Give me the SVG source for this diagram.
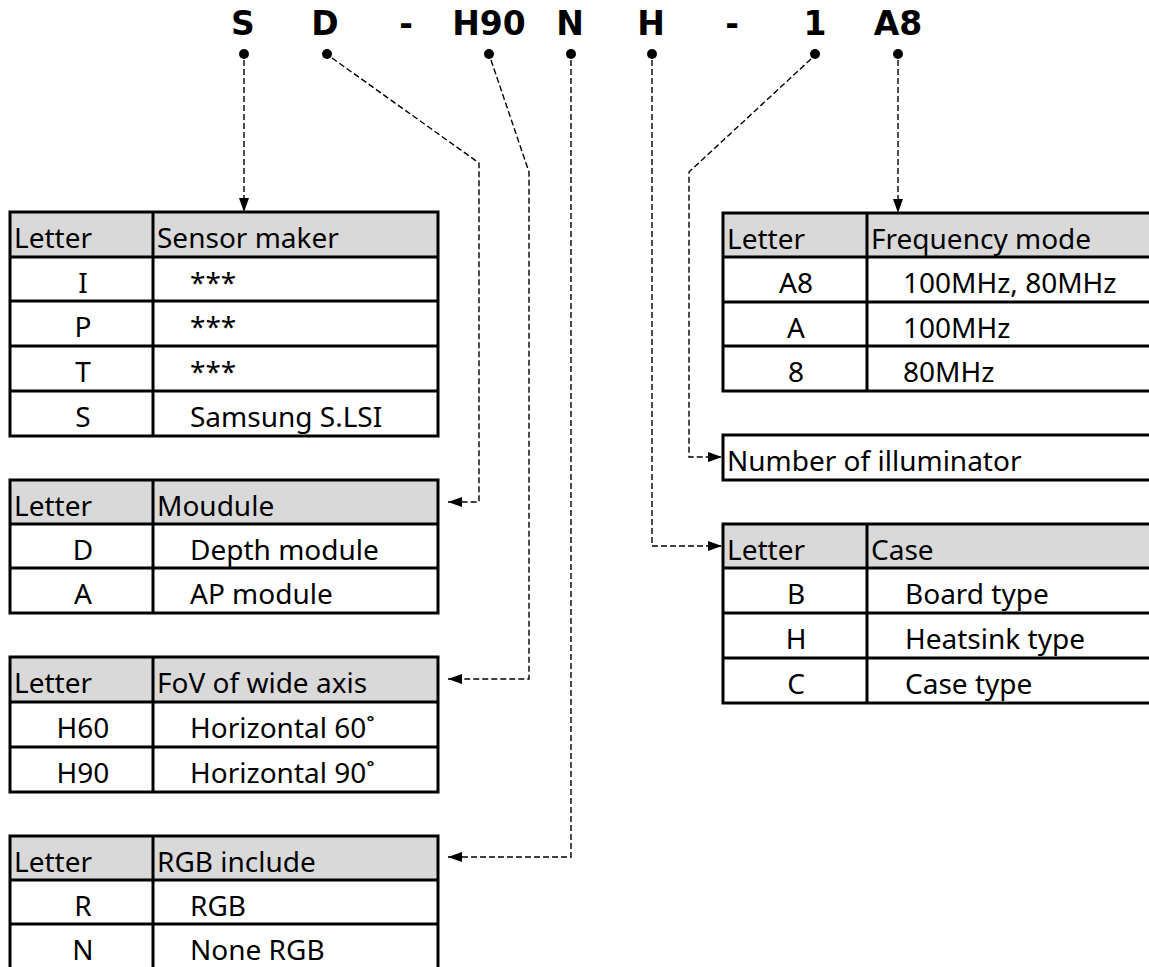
<svg xmlns="http://www.w3.org/2000/svg" width="1149" height="967" viewBox="0 0 1149 967">
  <style>
    .bg { fill: #ffffff; }
    .hdr { fill: #d9d9d9; stroke: none; }
    .frame { fill: none; stroke: #000; stroke-width: 3; }
    .rule { stroke: #000; stroke-width: 3; }
    .t { font-family: "Noto Sans", "Open Sans", sans-serif; font-size: 28px; fill: #000; }
    .c { text-anchor: middle; }
    .code { font-family: "DejaVu Sans", "Noto Sans", sans-serif; font-size: 33px; font-weight: bold; fill: #000; text-anchor: middle; }
    .dot { fill: #000; }
    .lead { fill: none; stroke: #000; stroke-width: 1.4; stroke-dasharray: 6 3; }
  </style>
  <defs>
    <marker id="arrow" viewBox="0 0 14 10" refX="14" refY="5" markerWidth="14" markerHeight="10" markerUnits="userSpaceOnUse" orient="auto">
      <path d="M0,0 L14,5 L0,10 Z" fill="#000"/>
    </marker>
  </defs>

  <rect class="bg" x="0" y="0" width="1149" height="967"/>

  <!-- part number, one field per group -->
  <g id="code">
    <text class="code" x="243" y="35">S</text>
    <text class="code" x="325" y="35">D</text>
    <text class="code" x="406" y="35">-</text>
    <text class="code" x="489" y="35">H90</text>
    <text class="code" x="570" y="35">N</text>
    <text class="code" x="651" y="35">H</text>
    <text class="code" x="732" y="35">-</text>
    <text class="code" x="815" y="35">1</text>
    <text class="code" x="898" y="35">A8</text>
    <circle class="dot" cx="244" cy="54" r="5"/>
    <circle class="dot" cx="327" cy="54" r="5"/>
    <circle class="dot" cx="489" cy="54" r="5"/>
    <circle class="dot" cx="571" cy="54" r="5"/>
    <circle class="dot" cx="652" cy="54" r="5"/>
    <circle class="dot" cx="815" cy="54" r="5"/>
    <circle class="dot" cx="898" cy="54" r="5"/>
  </g>

  <!-- leader lines from each field to its legend -->
  <g id="connectors">
    <path class="lead" d="M244,60 L244,212" marker-end="url(#arrow)"/>
    <path class="lead" d="M332,58 L479,163 L479,502 L448,502" marker-end="url(#arrow)"/>
    <path class="lead" d="M491,60 L529,172 L529,679 L448,679" marker-end="url(#arrow)"/>
    <path class="lead" d="M571,60 L571,857 L448,857" marker-end="url(#arrow)"/>
    <path class="lead" d="M652,60 L652,546 L722,546" marker-end="url(#arrow)"/>
    <path class="lead" d="M811,59 L689,172 L689,457 L722,457" marker-end="url(#arrow)"/>
    <path class="lead" d="M898,60 L898,213" marker-end="url(#arrow)"/>
  </g>

  <!-- sensor maker -->
  <g id="maker-table">
    <rect class="hdr" x="10" y="212" width="428" height="45"/>
    <rect class="frame" x="10" y="212" width="428" height="224"/>
    <line class="rule" x1="10" y1="257" x2="438" y2="257"/>
    <line class="rule" x1="10" y1="301" x2="438" y2="301"/>
    <line class="rule" x1="10" y1="346" x2="438" y2="346"/>
    <line class="rule" x1="10" y1="391" x2="438" y2="391"/>
    <line class="rule" x1="153" y1="212" x2="153" y2="436"/>
    <text class="t" x="14" y="248">Letter</text>
    <text class="t" x="157" y="248">Sensor maker</text>
    <text class="t c" x="83" y="293">I</text>
    <text class="t" x="190" y="293">***</text>
    <text class="t c" x="83" y="337">P</text>
    <text class="t" x="190" y="337">***</text>
    <text class="t c" x="83" y="382">T</text>
    <text class="t" x="190" y="382">***</text>
    <text class="t c" x="83" y="427">S</text>
    <text class="t" x="190" y="427">Samsung S.LSI</text>
  </g>

  <!-- module -->
  <g id="module-table">
    <rect class="hdr" x="10" y="480" width="428" height="44"/>
    <rect class="frame" x="10" y="480" width="428" height="133"/>
    <line class="rule" x1="10" y1="524" x2="438" y2="524"/>
    <line class="rule" x1="10" y1="568" x2="438" y2="568"/>
    <line class="rule" x1="153" y1="480" x2="153" y2="613"/>
    <text class="t" x="14" y="516">Letter</text>
    <text class="t" x="157" y="516">Moudule</text>
    <text class="t c" x="83" y="560">D</text>
    <text class="t" x="190" y="560">Depth module</text>
    <text class="t c" x="83" y="604">A</text>
    <text class="t" x="190" y="604">AP module</text>
  </g>

  <!-- field of view -->
  <g id="fov-table">
    <rect class="hdr" x="10" y="657" width="428" height="45"/>
    <rect class="frame" x="10" y="657" width="428" height="135"/>
    <line class="rule" x1="10" y1="702" x2="438" y2="702"/>
    <line class="rule" x1="10" y1="747" x2="438" y2="747"/>
    <line class="rule" x1="153" y1="657" x2="153" y2="792"/>
    <text class="t" x="14" y="693">Letter</text>
    <text class="t" x="157" y="693">FoV of wide axis</text>
    <text class="t c" x="83" y="738">H60</text>
    <text class="t" x="190" y="738">Horizontal 60˚</text>
    <text class="t c" x="83" y="783">H90</text>
    <text class="t" x="190" y="783">Horizontal 90˚</text>
  </g>

  <!-- RGB -->
  <g id="rgb-table">
    <rect class="hdr" x="10" y="836" width="428" height="44"/>
    <rect class="frame" x="10" y="836" width="428" height="134"/>
    <line class="rule" x1="10" y1="880" x2="438" y2="880"/>
    <line class="rule" x1="10" y1="924" x2="438" y2="924"/>
    <line class="rule" x1="153" y1="836" x2="153" y2="970"/>
    <text class="t" x="14" y="872">Letter</text>
    <text class="t" x="157" y="872">RGB include</text>
    <text class="t c" x="83" y="916">R</text>
    <text class="t" x="190" y="916">RGB</text>
    <text class="t c" x="83" y="960">N</text>
    <text class="t" x="190" y="960">None RGB</text>
  </g>

  <!-- frequency mode -->
  <g id="frequency-table">
    <rect class="hdr" x="723" y="213" width="440" height="44"/>
    <rect class="frame" x="723" y="213" width="440" height="178"/>
    <line class="rule" x1="723" y1="257" x2="1163" y2="257"/>
    <line class="rule" x1="723" y1="302" x2="1163" y2="302"/>
    <line class="rule" x1="723" y1="346" x2="1163" y2="346"/>
    <line class="rule" x1="867" y1="213" x2="867" y2="391"/>
    <text class="t" x="727" y="249">Letter</text>
    <text class="t" x="871" y="249">Frequency mode</text>
    <text class="t c" x="796" y="293">A8</text>
    <text class="t" x="903" y="293">100MHz, 80MHz</text>
    <text class="t c" x="796" y="338">A</text>
    <text class="t" x="903" y="338">100MHz</text>
    <text class="t c" x="796" y="382">8</text>
    <text class="t" x="903" y="382">80MHz</text>
  </g>

  <!-- illuminator count -->
  <g id="illuminator-box">
    <rect class="frame" x="723" y="435" width="440" height="45"/>
    <text class="t" x="727" y="471">Number of illuminator</text>
  </g>

  <!-- case -->
  <g id="case-table">
    <rect class="hdr" x="723" y="524" width="440" height="44"/>
    <rect class="frame" x="723" y="524" width="440" height="179"/>
    <line class="rule" x1="723" y1="568" x2="1163" y2="568"/>
    <line class="rule" x1="723" y1="613" x2="1163" y2="613"/>
    <line class="rule" x1="723" y1="658" x2="1163" y2="658"/>
    <line class="rule" x1="867" y1="524" x2="867" y2="703"/>
    <text class="t" x="727" y="560">Letter</text>
    <text class="t" x="871" y="560">Case</text>
    <text class="t c" x="796" y="604">B</text>
    <text class="t" x="905" y="604">Board type</text>
    <text class="t c" x="796" y="649">H</text>
    <text class="t" x="905" y="649">Heatsink type</text>
    <text class="t c" x="796" y="694">C</text>
    <text class="t" x="905" y="694">Case type</text>
  </g>
</svg>
